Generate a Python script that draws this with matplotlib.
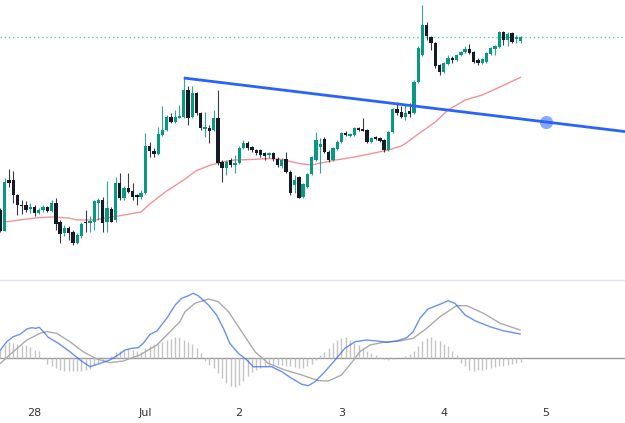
import numpy as np
import matplotlib
matplotlib.use("Agg")
import matplotlib.pyplot as plt
from matplotlib.lines import Line2D

# hourly candles (arbitrary price units)
opens = [90, 69, 120, 120, 105, 95, 95, 91, 93, 87, 90, 93, 89, 97, 78, 67, 72, 68, 57, 64,
         78, 77, 78, 97, 100, 78, 91, 80, 117, 102, 112, 109, 105, 103, 107, 154, 149, 146, 165, 170,
         183, 178, 182, 183, 210, 183, 207, 187, 171, 172, 170, 182, 138, 132, 140, 135, 137, 152, 157, 153,
         150, 150, 147, 145, 147, 141, 134, 141, 128, 115, 123, 103, 113, 126, 140, 153, 161, 148, 140, 151,
         158, 167, 164, 165, 172, 171, 170, 158, 163, 162, 160, 150, 168, 191, 188, 183, 189, 187, 218, 245,
         275, 263, 257, 235, 228, 236, 242, 240, 245, 248, 251, 248, 240, 237, 238, 246, 251, 253, 268, 260,
         267, 261, 259]
highs = [92, 122, 131, 129, 106, 100, 99, 97, 95, 92, 95, 94, 100, 102, 80, 75, 74, 70, 67, 78,
         90, 84, 100, 102, 103, 119, 93, 123, 127, 114, 127, 117, 106, 110, 167, 158, 152, 173, 194, 185,
         187, 190, 195, 222, 214, 214, 208, 188, 188, 175, 190, 210, 140, 140, 142, 145, 154, 160, 159, 154,
         151, 151, 148, 148, 148, 143, 142, 148, 130, 125, 124, 117, 127, 144, 168, 162, 163, 150, 153, 160,
         168, 169, 167, 173, 173, 182, 171, 163, 164, 163, 161, 169, 192, 198, 194, 196, 197, 220, 254, 295,
         278, 264, 258, 236, 238, 245, 244, 246, 249, 254, 256, 249, 242, 242, 248, 253, 255, 269, 269, 268,
         268, 265, 264]
lows = [68, 69, 113, 97, 85, 86, 88, 87, 84, 86, 88, 88, 88, 70, 57, 64, 60, 55, 56, 62,
        68, 68, 70, 80, 68, 68, 78, 78, 100, 100, 107, 100, 95, 101, 106, 143, 143, 145, 164, 169,
        177, 177, 182, 182, 175, 182, 185, 170, 163, 157, 169, 135, 118, 125, 133, 127, 136, 151, 150, 148,
        145, 143, 140, 142, 139, 133, 132, 127, 105, 107, 102, 102, 112, 125, 139, 127, 147, 138, 139, 150,
        157, 164, 163, 164, 169, 169, 157, 157, 160, 158, 148, 149, 167, 185, 182, 180, 183, 186, 217, 244,
        260, 250, 232, 225, 227, 235, 237, 239, 244, 247, 246, 237, 235, 236, 237, 245, 245, 252, 255, 254,
        257, 257, 257]
closes = [69, 118, 117, 105, 95, 94, 90, 93, 87, 90, 93, 89, 97, 76, 66, 72, 67, 57, 65, 76,
          77, 79, 99, 100, 77, 92, 78, 117, 102, 112, 108, 103, 103, 107, 154, 149, 146, 166, 170, 183,
          178, 183, 184, 210, 182, 207, 187, 172, 173, 169, 182, 137, 132, 138, 135, 137, 152, 157, 152, 150,
          147, 145, 144, 147, 141, 135, 140, 128, 107, 120, 102, 116, 126, 143, 160, 156, 148, 140, 152, 158,
          167, 165, 166, 172, 170, 169, 158, 162, 161, 159, 150, 168, 191, 187, 183, 187, 186, 218, 252, 275,
          264, 257, 234, 228, 237, 242, 240, 245, 248, 251, 247, 238, 237, 241, 247, 252, 254, 268, 260, 266,
          258, 263, 263]

# moving average (sampled along the red line)
ma_idx = [1, 8, 12, 16, 18, 22, 27, 33, 35, 39, 43, 46, 49, 52, 55, 59, 63, 66, 70, 73,
          78, 83, 86, 91, 94, 95, 98, 102, 105, 109, 113, 117, 122]
ma_val = [78, 82, 83, 82, 80, 80, 83.5, 88, 96, 109, 120, 129.5, 134.5, 138, 140, 140.5, 141.5, 140.5, 136.5, 135,
          139.5, 143, 145.5, 150, 154, 156.5, 166, 178, 190, 200, 205, 212.7, 222.7]

# trend line anchors (candle index, price)
trend_idx = [43, 128]
trend_val = [222, 178]

# MACD pane
macd_idx = [0, 1.5, 3, 4.6, 6.2, 7.3, 8.3, 9.1, 10.1, 11.2, 13.6, 16.3, 18.7, 21, 23.4, 25.7, 27.6, 29.2,
            30.8, 32.3, 33.5, 35.1, 36.7, 39, 41, 42.5, 44.1, 45.2, 46.4, 48.8, 50.7, 52.3, 53.8, 55.8,
            57.8, 59.3, 63.6, 66, 68.3, 70.7, 72.2, 73.8, 76.1, 78.5, 80.8, 83.2, 85.9, 88.3, 90.6, 92.9,
            95.3, 96.8, 98.4, 100.3, 103.1, 105, 106.6, 109, 111.3, 114.8, 117.9, 121.9]
macd_val = [8.3, 16.6, 21.6, 24, 29.3, 30.6, 30, 31, 26.6, 21, 15, 6.6, -1.7, -8.4, -5, -1.7, 3.3, 8.3,
            10, 10.6, 15, 24, 27.3, 40, 53.3, 60, 62.6, 65, 62.6, 53.3, 43.3, 30, 15, 5,
            -1.7, -8.4, -8.4, -13.4, -20, -26, -27.4, -23.4, -13.4, -1.7, 10, 16.6, 18.3, 17.3, 16, 17.3,
            20.6, 26.6, 40, 49.3, 54, 57.6, 55, 43.3, 37.6, 31.6, 27.6, 24.3]
sig_idx = [0, 3, 6.2, 9.3, 10.9, 13.2, 16.3, 19.4, 22.6, 25.7, 28.8, 32.7, 36.7, 39.8, 42.1, 43.3, 45.6,
           48.8, 51.1, 53.5, 56.6, 59.7, 62.8, 66.7, 70.7, 74.6, 76.9, 80, 83, 84.3, 86.7, 89.8, 93.7,
           96.8, 100, 103.1, 107, 109.4, 113.3, 117.2, 121.9]
sig_val = [-5, 6.6, 18.3, 25, 26.6, 25, 16.6, 6.6, -0.7, -4.4, -2.7, 3.3, 13.3, 26.6, 36.6, 46.6, 55,
           59.3, 56.6, 46.6, 26.6, 6.6, -5, -11.7, -16.7, -22.4, -22.7, -16.7, -1, 6.6, 13.3, 16, 17.3,
           20, 30, 41.6, 52.6, 52.6, 45, 35, 28.3]
hist = [8, 13, 16, 15, 14, 13, 13, 11, 8, 7, -1, -6, -8, -10, -12, -13, -13, -13, -13, -13,
        -12, -11, -7, -5, -3, -1, 2, 6, 7, 8, 9, 8, 7, 6, 10, 12, 14, 15, 16, 18,
        19, 21, 21, 18, 16, 14, 10, 5, -3, -7, -10, -15, -20, -25, -28, -29, -27, -23, -18, -14,
        -12, -10, -9, -8, -8, -7, -7, -8, -8, -9, -10, -10, -8, -6, -2, 3, 6, 10, 15, 18,
        20, 21, 18, 15, 13, 10, 7, 5, 3, 1, -1, -2, -1, 0, 0, 2, 4, 7, 12, 17,
        20, 21, 18, 17, 14, 12, 7, 3, -5, -8, -12, -13, -12, -12, -11, -10, -9, -8, -8, -7,
        -6, -5, -4]

tick_idx = [8, 34, 56, 80, 104, 128]
tick_labels = ["28", "Jul", "2", "3", "4", "5"]

GREEN = "#089981"
DARK = "#161a25"

o = np.array(opens, float)
h = np.array(highs, float)
l = np.array(lows, float)
c = np.array(closes, float)
x = np.arange(len(o))
cols = [GREEN if cc >= oo else DARK for oo, cc in zip(o, c)]

fig = plt.figure(figsize=(6.25, 4.23), dpi=100)
ax = fig.add_axes([0, 143 / 423, 1, 280 / 423])
ax2 = fig.add_axes([0, 25 / 423, 1, 117 / 423])

# price pane
ax.axhline(c[-1], color=GREEN, lw=1, ls=(0, (1, 2)), alpha=0.6, zorder=1)
ax.plot(ma_idx, ma_val, color="#f23645", lw=1, alpha=0.55, zorder=2)
ax.vlines(x, l, h, colors=cols, lw=0.8, alpha=0.85, zorder=3)
ax.bar(x, np.maximum(np.abs(c - o), 1.2), bottom=np.minimum(o, c), width=0.78,
       color=cols, linewidth=0, zorder=4)

xmax = 146.5
slope = (trend_val[1] - trend_val[0]) / (trend_idx[1] - trend_idx[0])
ax.plot([trend_idx[0], xmax], [trend_val[0], trend_val[0] + slope * (xmax - trend_idx[0])],
        color="#2962ff", lw=2.0, solid_capstyle="butt", zorder=5)
ax.plot(trend_idx[1], trend_val[1], "o", ms=9.5, color="#2962ff", alpha=0.55, mec="none", zorder=6)

ax.set_xlim(-0.1, xmax)
ax.set_ylim(20, 300)
ax.axis("off")

# MACD pane
ax2.axhline(0, color="#9a9a9a", lw=1, zorder=1)
ax2.vlines(x, 0, hist, colors="#c4c4c4", lw=1, zorder=2)
ax2.plot(sig_idx, sig_val, color="#ababab", lw=1, zorder=3)
ax2.plot(macd_idx, macd_val, color="#2962ff", lw=1, alpha=0.7, zorder=4)
ax2.set_xlim(-0.1, xmax)
ax2.set_ylim(-39.7, 77.3)
for s in ax2.spines.values():
    s.set_visible(False)
ax2.set_yticks([])
ax2.set_xticks(tick_idx)
ax2.set_xticklabels(tick_labels)
ax2.tick_params(axis="x", length=0, pad=7, labelsize=8, labelcolor="#333333")

fig.add_artist(Line2D([0, 1], [143 / 423, 143 / 423], color="#e0e3eb", lw=1))

fig.savefig("out.png", dpi=100, facecolor="white")
